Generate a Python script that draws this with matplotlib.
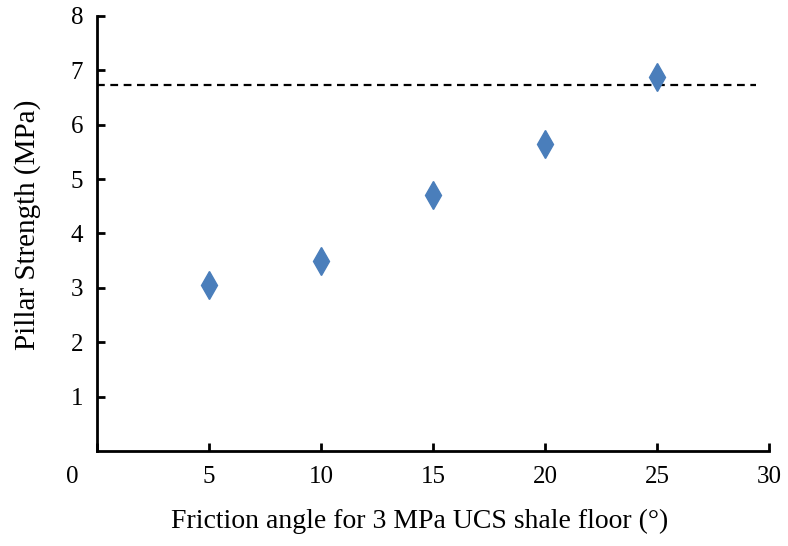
import matplotlib
matplotlib.use("Agg")
import matplotlib.pyplot as plt

friction_angle = [5, 10, 15, 20, 25]
pillar_strength = [3.05, 3.50, 4.70, 5.65, 6.87]
threshold = 6.73
x_ticks = [0, 5, 10, 15, 20, 25, 30]
y_ticks = [1, 2, 3, 4, 5, 6, 7, 8]

plt.rcParams['font.family'] = ['Liberation Serif', 'DejaVu Serif']

fig = plt.figure(figsize=(7.88, 5.46), dpi=100)
ax = fig.add_axes([0.123, 0.174, 0.853, 0.797])

ax.plot([0, 29.4], [threshold, threshold], linestyle=(0, (3.5, 2.5)), color='black', linewidth=1.6)
ax.plot(friction_angle, pillar_strength, linestyle='none', marker='d', markersize=14,
        color='#4a7ebb', markeredgecolor='#4a7ebb', zorder=3)

ax.set_xlim(0, 30)
ax.set_ylim(0, 8)
ax.set_xticks(x_ticks)
ax.set_yticks(y_ticks)
ax.set_xticklabels(['' if v == 0 else str(v) for v in x_ticks])
ax.spines['top'].set_visible(False)
ax.spines['right'].set_visible(False)
ax.spines['left'].set_linewidth(2)
ax.spines['bottom'].set_linewidth(2)
ax.tick_params(axis='both', direction='in', length=6, width=2, labelsize=18, colors='black')
ax.tick_params(axis='y', pad=10)
ax.tick_params(axis='x', pad=11)

# origin label, drawn below-left of the axis corner as in the reference
ax.annotate(str(x_ticks[0]), xy=(x_ticks[0], 0), xytext=(-18, -19), textcoords='offset points',
            ha='center', va='center', fontsize=18, annotation_clip=False)

ax.set_xlabel('Friction angle for 3 MPa UCS shale floor (°)', fontsize=20)
ax.set_ylabel('Pillar Strength (MPa)', fontsize=21)
ax.xaxis.set_label_coords(0.48, -0.133)
ax.yaxis.set_label_coords(-0.083, 0.52)

fig.savefig('out.png', dpi=100, facecolor='white')
